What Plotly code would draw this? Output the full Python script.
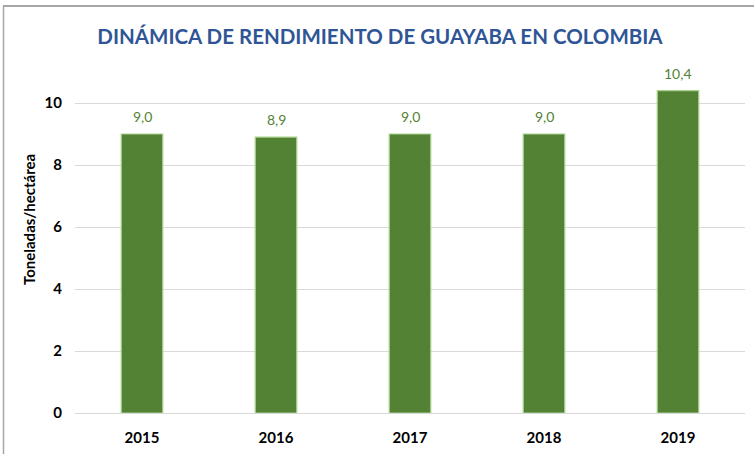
import plotly.graph_objects as go

years = ["2015", "2016", "2017", "2018", "2019"]
yields = [9.0, 8.9, 9.0, 9.0, 10.4]
labels = ["9,0", "8,9", "9,0", "9,0", "10,4"]
y_ticks = [0, 2, 4, 6, 8, 10]

W, H = 754, 454
ml, mr, mt, mb = 75, 9, 72, 41
pw, ph = W - ml - mr, H - mt - mb

def px_x(p):
    return (p - ml) / pw

def px_y(p):
    return (H - mb - p) / ph

FONT = "Lato, Open Sans, sans-serif"

fig = go.Figure()
fig.add_trace(go.Bar(
    x=years, y=yields,
    marker=dict(color="#548235", line=dict(color="#A9D18E", width=1.2)),
    width=0.31,
))

for i, (v, lab) in enumerate(zip(yields, labels)):
    fig.add_annotation(x=i, y=v, text=lab, showarrow=False,
                       xanchor="center", yanchor="bottom", yshift=7,
                       font=dict(family=FONT, size=14, color="#548235"))

fig.add_annotation(xref="paper", yref="paper", x=px_x(29), y=px_y(220),
                   text="<b>Toneladas/hectárea</b>", textangle=-90, showarrow=False,
                   xanchor="center", yanchor="middle",
                   font=dict(family=FONT, size=15, color="#000000"))

fig.update_layout(
    width=W, height=H,
    margin=dict(l=ml, r=mr, t=mt, b=mb, autoexpand=False),
    paper_bgcolor="white", plot_bgcolor="white",
    showlegend=False,
    title=dict(
        text="<b>DINÁMICA DE RENDIMIENTO DE GUAYABA EN COLOMBIA</b>",
        x=380 / W, xanchor="center", y=1 - 37 / H, yanchor="middle",
        font=dict(family=FONT, size=20.5, color="#2F5597"),
    ),
    xaxis=dict(
        type="category",
        showgrid=False, showline=False, ticks="", automargin=False,
        ticklabelstandoff=14,
        tickfont=dict(family=FONT, size=15, color="#000000", weight="bold"),
        range=[-0.5, 4.5],
    ),
    yaxis=dict(
        range=[0, 11], tickvals=y_ticks, automargin=False,
        showgrid=True, gridcolor="#D9D9D9", gridwidth=1.3,
        zeroline=True, zerolinecolor="#D9D9D9", zerolinewidth=1.3,
        showline=False, ticks="",
        ticklabelstandoff=12,
        tickfont=dict(family=FONT, size=15, color="#000000", weight="bold"),
    ),
    bargap=0.69,
)

# chart border (top and left only visible)
fig.add_shape(type="line", xref="paper", yref="paper",
              x0=px_x(3), x1=px_x(W), y0=px_y(6), y1=px_y(6),
              line=dict(color="#A6A6A6", width=2))
fig.add_shape(type="line", xref="paper", yref="paper",
              x0=px_x(3.5), x1=px_x(3.5), y0=px_y(6), y1=px_y(H),
              line=dict(color="#A6A6A6", width=1.5))

fig.write_html("out.html", config={"displayModeBar": False},
               post_script="document.body.style.margin='0';document.body.style.overflow='hidden';")
